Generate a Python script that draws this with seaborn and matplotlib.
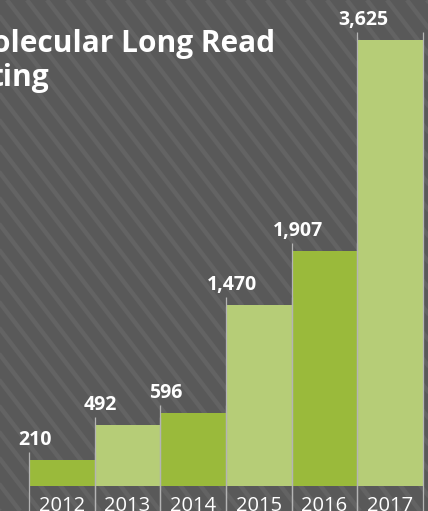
import matplotlib.pyplot as plt
import numpy as np
import seaborn as sns
import pandas as pd

# * Data
years = ["2012", "2013", "2014", "2015", "2016", "2017"]
counts = [210, 492, 596, 1470, 1907, 3625]
bar_colors = ["#9aba3b", "#b6cd77", "#9aba3b", "#b6cd77", "#9aba3b", "#b6cd77"]
title_line1 = "Molecular Long Read"
title_line2 = "ting"

bg = "#595959"
stripe = "#636363"
edge = "#b4b4b4"

sns.set_theme(style="white")
plt.rcParams["font.family"] = ["Open Sans", "DejaVu Sans"]

W, H = 428, 511
fig = plt.figure(figsize=(W / 100, H / 100), dpi=100, facecolor=bg)

# * Striped background covering the whole figure
ax_bg = fig.add_axes([0, 0, 1, 1], zorder=-1)
ax_bg.set_xlim(0, W)
ax_bg.set_ylim(H, 0)
ax_bg.set_facecolor(bg)
ax_bg.axis("off")
slope = 1.3
for x0 in np.arange(-H / slope, W + 20, 20):
    ax_bg.plot([x0, x0 + H / slope], [0, H], color=stripe, lw=3.2, solid_capstyle="butt")

# * Bar chart area: bars touch each other, bottom at 486 px from top
ax = fig.add_axes([29 / W, 25 / H, 394 / W, 486 / H])
ax.patch.set_alpha(0)
df = pd.DataFrame({"year": years, "count": counts})
sns.barplot(data=df, x="year", y="count", hue="year", palette=bar_colors,
            width=1.0, legend=False, saturation=1, ax=ax, linewidth=0)
ymax = 3625 * 486 / 446
ax.set_xlim(-0.5, len(years) - 0.5)
ax.set_ylim(0, ymax)
for s in ax.spines.values():
    s.set_visible(False)
ax.set_yticks([])
ax.set_xlabel("")
ax.set_ylabel("")
ax.tick_params(axis="x", length=0, pad=7, labelsize=14.5, labelcolor="white")

# * Thin light separator lines on each bar edge, running down through the label row
units_per_px = ymax / 486
for i, v in enumerate(counts):
    top = v + 8 * units_per_px
    for xe in (i - 0.5, i + 0.5):
        ax.vlines(xe, -40 * units_per_px, top, color=edge, lw=0.9, clip_on=False, zorder=3)
    ax.text(i - 0.41, v + 15 * units_per_px, f"{v:,}", ha="center", va="baseline",
            color="white", fontsize=14, fontweight="bold", clip_on=False)

# * Title (cut off by the left edge in the reference)
fig.text(275 / W, 1 - 52 / H, title_line1, ha="right", va="baseline",
         color="white", fontsize=21.5, fontweight="bold")
fig.text(49 / W, 1 - 86 / H, title_line2, ha="right", va="baseline",
         color="white", fontsize=21.5, fontweight="bold")

fig.savefig("out.png", dpi=100, facecolor=bg)
